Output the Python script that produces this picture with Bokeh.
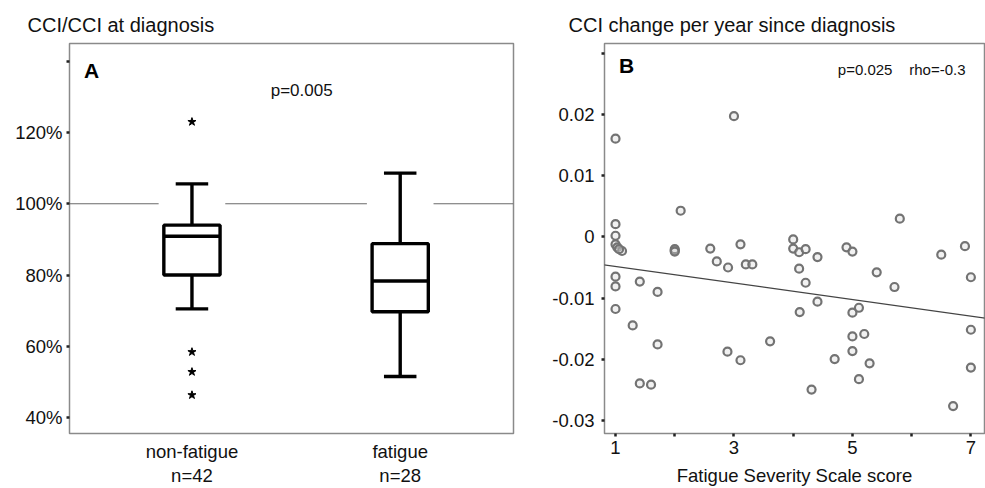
from bokeh.plotting import figure
from bokeh.layouts import row
from bokeh.models import Range1d, FixedTicker, LinearAxis, Label, Slope, Span, ColumnDataSource
from bokeh.transform import dodge
from bokeh.embed import file_html
from bokeh.resources import INLINE

FONT = "Liberation Sans"

# ---------------- Panel A data (box plot) ----------------
groups = ["non-fatigue", "fatigue"]
group_n = ["n=42", "n=28"]
q1 = [80.0, 69.7]
median = [90.9, 78.3]
q3 = [94.0, 88.8]
whisker_low = [70.5, 51.5]
whisker_high = [105.6, 108.6]
outlier_group = ["non-fatigue", "non-fatigue", "non-fatigue", "non-fatigue"]
outlier_values = [123.0, 58.4, 52.8, 46.3]
reference_level = 100
y_ticks_a = [40, 60, 80, 100, 120, 140]
y_labels_a = ["40%", "60%", "80%", "100%", "120%", ""]
title_a = "CCI/CCI at diagnosis"
p_text_a = "p=0.005"

# ---------------- Panel B data (scatter) ----------------
fss = [1.0, 3.0, 1.0, 1.0, 1.0, 1.03, 1.11, 2.10, 2.0, 2.0, 2.0, 2.6, 2.71, 2.9,
       3.11, 3.20, 3.31, 4.0, 4.0, 4.10, 4.21, 4.41, 4.90, 5.0, 5.80, 6.50, 6.90,
       5.41, 4.10, 4.21, 4.41, 4.11, 5.0, 5.11, 5.0, 5.20, 5.0, 4.70, 5.29, 5.11,
       4.31, 5.71, 7.0, 7.0, 7.0, 6.70, 1.0, 1.0, 1.0, 1.41, 1.71, 1.29, 1.71,
       1.41, 1.60, 2.89, 3.11, 3.61, 1.06]
cci_change = [0.0161, 0.0198, 0.0021, 0.0002, -0.0012, -0.0017, -0.0023, 0.0043,
              -0.0022, -0.0020, -0.0024, -0.0019, -0.0040, -0.0050, -0.0012,
              -0.0045, -0.0045, -0.0004, -0.0019, -0.0025, -0.0020, -0.0033,
              -0.0017, -0.0024, 0.0030, -0.0029, -0.0015, -0.0058, -0.0052,
              -0.0075, -0.0106, -0.0123, -0.0124, -0.0116, -0.0163, -0.0159,
              -0.0187, -0.0200, -0.0207, -0.0233, -0.0250, -0.0082, -0.0066,
              -0.0152, -0.0214, -0.0277, -0.0065, -0.0081, -0.0118, -0.0073,
              -0.0090, -0.0145, -0.0176, -0.0240, -0.0242, -0.0188, -0.0202,
              -0.0171, -0.0020]
reg_intercept = -0.00348
reg_slope = -0.001354
x_ticks_b = [1, 2, 3, 4, 5, 6, 7]
x_labels_b = ["1", "", "3", "", "5", "", "7"]
y_ticks_b = [-0.03, -0.02, -0.01, 0, 0.01, 0.02, 0.03]
y_labels_b = ["-0.03", "-0.02", "-0.01", "0", "0.01", "0.02", ""]
title_b = "CCI change per year since diagnosis"
x_label_b = "Fatigue Severity Scale score"
p_text_b = "p=0.025"
rho_text_b = "rho=-0.3"

FRAME = "#8a8a8a"
TXT = "#111111"
TICK_FONT = "18.5px"


def style_common(p, title_offset):
    p.title.text_font = FONT
    p.title.text_font_size = "20px"
    p.title.text_font_style = "normal"
    p.title.text_color = TXT
    p.title.align = "left"
    p.title.offset = title_offset
    p.title.standoff = 15
    p.outline_line_color = FRAME
    p.outline_line_width = 1.5
    p.xgrid.visible = False
    p.ygrid.visible = False
    p.background_fill_color = "white"
    p.border_fill_color = "white"


def style_axis(ax, tick=True, standoff=4):
    ax.axis_line_color = None
    ax.minor_tick_line_color = None
    ax.major_tick_in = 0
    if tick:
        ax.major_tick_out = 3
        ax.major_tick_line_width = 2.5
        ax.major_tick_line_color = "#222222"
    else:
        ax.major_tick_line_color = None
        ax.major_tick_out = 0
    ax.major_label_text_font = FONT
    ax.major_label_text_font_size = TICK_FONT
    ax.major_label_text_color = TXT
    ax.major_label_standoff = standoff


# ---------------- Panel A ----------------
pA = figure(width=520, height=488, output_backend="svg", toolbar_location=None,
            x_range=Range1d(0.412, 2.544), y_range=Range1d(35.5, 145.0),
            min_border_left=69, min_border_right=7, min_border_top=42,
            min_border_bottom=55, title=title_a)
style_common(pA, -42)

gx = [i + 1 for i in range(len(groups))]
src = ColumnDataSource(dict(x=gx, q1=q1, med=median, q3=q3, lo=whisker_low, hi=whisker_high))

pA.add_layout(Span(location=reference_level, dimension="width", line_color="#6a6a6a",
                   line_width=1.2, level="underlay"))
# white mask behind each box element (breaks the reference line)
pA.vbar(x="x", width=0.32, bottom="lo", top="hi", source=src, fill_color="white", line_color=None)
pA.segment(x0="x", y0="lo", x1="x", y1="q1", source=src, line_color="black", line_width=3.4)
pA.segment(x0="x", y0="q3", x1="x", y1="hi", source=src, line_color="black", line_width=3.4)
pA.vbar(x="x", width=0.27, bottom="q1", top="q3", source=src, fill_color="white",
        line_color="black", line_width=3.4)
pA.segment(x0=dodge("x", -0.135), y0="med", x1=dodge("x", 0.135), y1="med", source=src,
           line_color="black", line_width=3.4)
pA.segment(x0=dodge("x", -0.078), y0="hi", x1=dodge("x", 0.078), y1="hi", source=src,
           line_color="black", line_width=3.4)
pA.segment(x0=dodge("x", -0.078), y0="lo", x1=dodge("x", 0.078), y1="lo", source=src,
           line_color="black", line_width=3.4)
ox = [gx[groups.index(g)] for g in outlier_group]
pA.scatter(ox, outlier_values, marker="star", size=8.5, color="black")

pA.yaxis.ticker = FixedTicker(ticks=y_ticks_a)
pA.yaxis.major_label_overrides = dict(zip(y_ticks_a, y_labels_a))
style_axis(pA.yaxis[0], standoff=4)

pA.xaxis.ticker = FixedTicker(ticks=gx)
pA.xaxis.major_label_overrides = dict(zip(gx, groups))
style_axis(pA.xaxis[0], tick=False, standoff=7)
ax2 = LinearAxis(ticker=FixedTicker(ticks=gx), major_label_overrides=dict(zip(gx, group_n)))
style_axis(ax2, tick=False, standoff=0)
pA.add_layout(ax2, "below")

pA.add_layout(Label(x=0.518, y=137.5, text="A", text_font=FONT, text_font_size="21px",
                    text_font_style="bold", text_align="center", text_baseline="middle",
                    text_color="black"))
pA.add_layout(Label(x=1.527, y=131.9, text=p_text_a, text_font=FONT, text_font_size="17px",
                    text_align="center", text_baseline="middle", text_color=TXT))

# ---------------- Panel B ----------------
pB = figure(width=465, height=488, output_backend="svg", toolbar_location=None,
            x_range=Range1d(0.814, 7.23), y_range=Range1d(-0.0322, 0.0317),
            min_border_left=84, min_border_right=1, min_border_top=43,
            min_border_bottom=55, title=title_b)
style_common(pB, -36)

pB.scatter(fss, cci_change, marker="circle", size=8, line_color="#737373",
           line_width=2.2, fill_color="#d8d8d8", fill_alpha=0.35)
pB.add_layout(Slope(gradient=reg_slope, y_intercept=reg_intercept,
                    line_color="#444444", line_width=1.2))

pB.yaxis.ticker = FixedTicker(ticks=y_ticks_b)
pB.yaxis.major_label_overrides = dict(zip(y_ticks_b, y_labels_b))
style_axis(pB.yaxis[0], standoff=7)
pB.xaxis.ticker = FixedTicker(ticks=x_ticks_b)
pB.xaxis.major_label_overrides = dict(zip(x_ticks_b, x_labels_b))
style_axis(pB.xaxis[0], standoff=4)
pB.xaxis.axis_label = x_label_b
pB.xaxis.axis_label_text_font = FONT
pB.xaxis.axis_label_text_font_size = TICK_FONT
pB.xaxis.axis_label_text_font_style = "normal"
pB.xaxis.axis_label_text_color = TXT
pB.xaxis.axis_label_standoff = 8

pB.add_layout(Label(x=1.185, y=0.02807, text="B", text_font=FONT, text_font_size="21px",
                    text_font_style="bold", text_align="center", text_baseline="middle",
                    text_color="black"))
pB.add_layout(Label(x=5.676, y=0.02751, text=p_text_b, text_font=FONT, text_font_size="15px",
                    text_align="right", text_baseline="middle", text_color=TXT))
pB.add_layout(Label(x=6.909, y=0.02751, text=rho_text_b, text_font=FONT, text_font_size="15px",
                    text_align="right", text_baseline="middle", text_color=TXT))

layout = row(pA, pB, spacing=0)
open("out.html", "w").write(file_html(layout, INLINE))
